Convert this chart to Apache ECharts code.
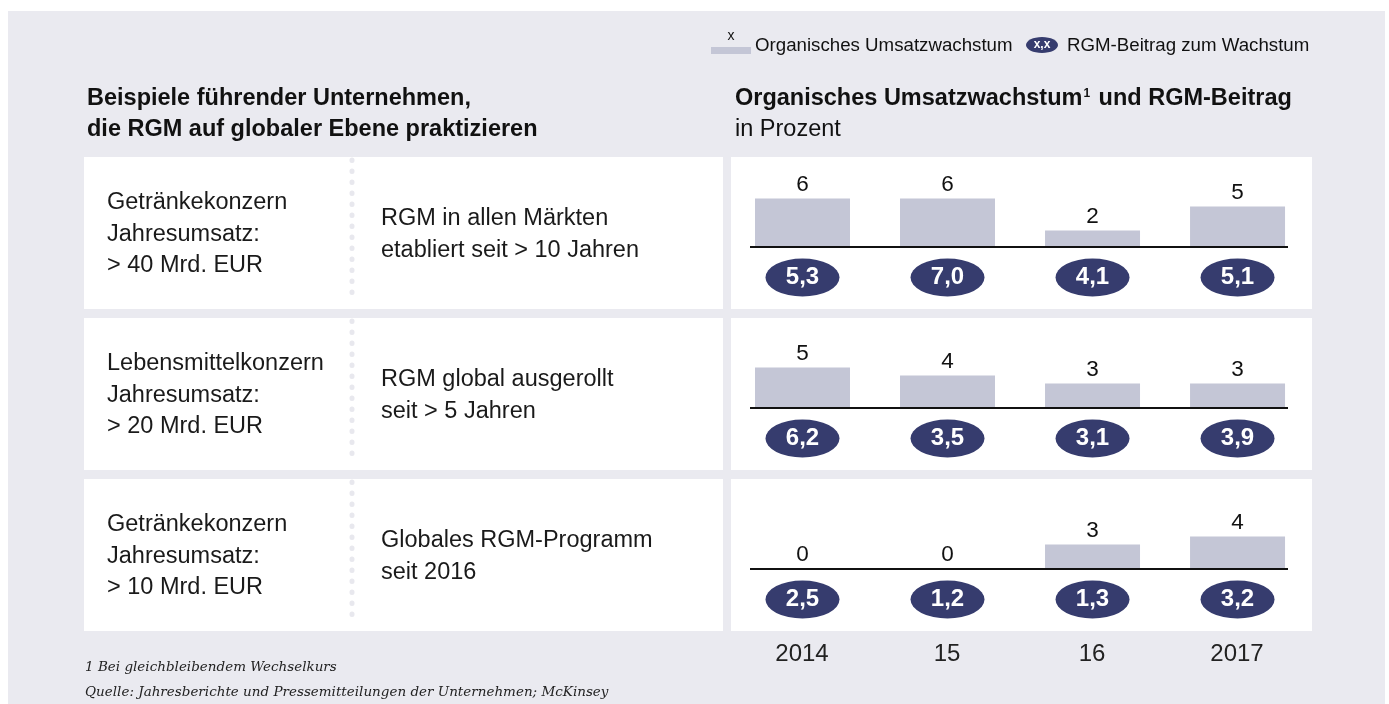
<!DOCTYPE html>
<html>
<head>
<meta charset="utf-8">
<script src="https://cdn.jsdelivr.net/npm/echarts@6/dist/echarts.min.js"></script>
<style>
html, body { margin: 0; padding: 0; background: #fff; }
#chart { width: 1389px; height: 704px; }
</style>
</head>
<body>
<div id="chart"></div>
<script>
// Daten aus der Grafik
var years = ['2014', '15', '16', '2017'];
var growth1 = [6, 6, 2, 5];
var growth2 = [5, 4, 3, 3];
var growth3 = [0, 0, 3, 4];
var rgm1 = [5.3, 7.0, 4.1, 5.1];
var rgm2 = [6.2, 3.5, 3.1, 3.9];
var rgm3 = [2.5, 1.2, 1.3, 3.2];
var companies = [
    ['Getränkekonzern', 'Jahresumsatz:', '> 40 Mrd. EUR'],
    ['Lebensmittelkonzern', 'Jahresumsatz:', '> 20 Mrd. EUR'],
    ['Getränkekonzern', 'Jahresumsatz:', '> 10 Mrd. EUR']
];
var programs = [
    ['RGM in allen Märkten', 'etabliert seit > 10 Jahren'],
    ['RGM global ausgerollt', 'seit > 5 Jahren'],
    ['Globales RGM-Programm', 'seit 2016']
];
var footnotes = [
    '1 Bei gleichbleibendem Wechselkurs',
    'Quelle: Jahresberichte und Pressemitteilungen der Unternehmen; McKinsey'
];

var growthRows = [growth1, growth2, growth3];
var rgmRows = [rgm1, rgm2, rgm3];

var FONT = '"Liberation Sans", Arial, sans-serif';
var BAR_COLOR = '#c4c6d6';
var NAVY = '#363c6e';
var rowTops = [157, 318, 479];
var rowH = 152;
var badgeY = -3.875; // Lage der Ellipsen unter der Nulllinie

var myChart = echarts.init(document.getElementById('chart'));

var grids = [], xAxes = [], yAxes = [], series = [];
var graphics = [];

// Hintergrund
graphics.push({ type: 'rect', z: -10, silent: true, shape: { x: 8, y: 11, width: 1377, height: 693 }, style: { fill: '#eaeaf0' } });

for (var r = 0; r < 3; r++) {
    var y0 = rowTops[r];
    // weisse Felder
    graphics.push({ type: 'rect', z: -5, silent: true, shape: { x: 84, y: y0, width: 639, height: rowH }, style: { fill: '#fff' } });
    graphics.push({ type: 'rect', z: -5, silent: true, shape: { x: 731, y: y0, width: 581, height: rowH }, style: { fill: '#fff' } });
    // gepunktete Trennlinie
    graphics.push({ type: 'line', z: -4, silent: true, shape: { x1: 352, y1: y0 + 3, x2: 352, y2: y0 + 146 },
        style: { stroke: '#e8e8ee', lineWidth: 5, lineCap: 'round', lineDash: [0.5, 10.5] } });

    for (var i = 0; i < companies[r].length; i++) {
        graphics.push({ type: 'text', z: 5, silent: true, style: {
            text: companies[r][i], x: 107, y: y0 + 46 + i * 31.5, fill: '#1a1a1a',
            fontSize: 23.5, fontFamily: FONT, textAlign: 'left', textVerticalAlign: 'middle' } });
    }
    for (var j = 0; j < programs[r].length; j++) {
        graphics.push({ type: 'text', z: 5, silent: true, style: {
            text: programs[r][j], x: 381, y: y0 + 62 + j * 31.5, fill: '#1a1a1a',
            fontSize: 23.5, fontFamily: FONT, textAlign: 'left', textVerticalAlign: 'middle' } });
    }

    grids.push({ left: 750, width: 538, top: y0 + 25.5, height: 112 });
    xAxes.push({ type: 'value', gridIndex: r, min: -0.362, max: 3.348, show: false });
    yAxes.push({ type: 'value', gridIndex: r, min: -6, max: 8, show: false });

    series.push({
        type: 'bar', name: 'Organisches Umsatzwachstum', xAxisIndex: r, yAxisIndex: r,
        data: growthRows[r].map(function (v, k) { return [k, v]; }),
        barWidth: 95, itemStyle: { color: BAR_COLOR }, silent: true,
        label: { show: true, position: 'top', distance: 2, fontSize: 22.5, fontFamily: FONT, color: '#111',
            formatter: function (p) { return String(p.value[1]); } },
        markLine: { silent: true, symbol: ['none', 'none'], label: { show: false },
            lineStyle: { color: '#111', width: 2, type: 'solid' }, data: [{ yAxis: 0 }] }
    });
    series.push({
        type: 'scatter', name: 'RGM-Beitrag zum Wachstum', xAxisIndex: r, yAxisIndex: r,
        data: rgmRows[r].map(function (v, k) { return [k, badgeY, v]; }),
        symbol: 'circle', symbolSize: [74, 38], itemStyle: { color: NAVY, opacity: 1 }, silent: true,
        label: { show: true, position: 'inside', fontSize: 24, fontWeight: 'bold', fontFamily: FONT, color: '#fff',
            formatter: function (p) { return p.value[2].toFixed(1).replace('.', ','); } }
    });
}

// Jahresachse unter den Feldern
grids.push({ left: 729.5, width: 580, top: 616, height: 10 });
xAxes.push({ type: 'category', gridIndex: 3, data: years, position: 'top',
    axisLine: { show: false }, axisTick: { show: false },
    axisLabel: { margin: -50, fontSize: 24, fontFamily: FONT, color: '#222' } });
yAxes.push({ type: 'value', gridIndex: 3, show: false });

// Überschriften
graphics.push({ type: 'text', z: 5, silent: true, style: { text: 'Beispiele führender Unternehmen,', x: 87, y: 99,
    fontSize: 23.5, fontWeight: 'bold', fontFamily: FONT, fill: '#111', textVerticalAlign: 'middle' } });
graphics.push({ type: 'text', z: 5, silent: true, style: { text: 'die RGM auf globaler Ebene praktizieren', x: 87, y: 130,
    fontSize: 23.5, fontWeight: 'bold', fontFamily: FONT, fill: '#111', textVerticalAlign: 'middle' } });
graphics.push({ type: 'text', z: 5, silent: true, style: {
    text: '{b|Organisches Umsatzwachstum}{s|1}{b| und RGM-Beitrag}', x: 735, y: 99, textVerticalAlign: 'middle',
    rich: {
        b: { fontSize: 23.5, fontWeight: 'bold', fontFamily: FONT, fill: '#111' },
        s: { fontSize: 12, fontWeight: 'bold', fontFamily: FONT, fill: '#111', padding: [0, 2, 11, 1] }
    } } });
graphics.push({ type: 'text', z: 5, silent: true, style: { text: 'in Prozent', x: 735, y: 130,
    fontSize: 23.5, fontFamily: FONT, fill: '#111', textVerticalAlign: 'middle' } });

// Legende
graphics.push({ type: 'text', z: 5, silent: true, style: { text: 'x', x: 731, y: 36, fontSize: 14, fontFamily: FONT,
    fill: '#111', textAlign: 'center', textVerticalAlign: 'middle' } });
graphics.push({ type: 'rect', z: 5, silent: true, shape: { x: 711, y: 47, width: 40, height: 7 }, style: { fill: BAR_COLOR } });
graphics.push({ type: 'text', z: 5, silent: true, style: { text: 'Organisches Umsatzwachstum', x: 755, y: 46, fontSize: 18.7,
    fontFamily: FONT, fill: '#111', textVerticalAlign: 'middle' } });
graphics.push({ type: 'ellipse', z: 5, silent: true, shape: { cx: 1042, cy: 45, rx: 16, ry: 8 }, style: { fill: NAVY } });
graphics.push({ type: 'text', z: 6, silent: true, style: { text: 'x,x', x: 1042, y: 45, fontSize: 12, fontWeight: 'bold',
    fontFamily: FONT, fill: '#fff', textAlign: 'center', textVerticalAlign: 'middle' } });
graphics.push({ type: 'text', z: 5, silent: true, style: { text: 'RGM-Beitrag zum Wachstum', x: 1067, y: 46, fontSize: 18.7,
    fontFamily: FONT, fill: '#111', textVerticalAlign: 'middle' } });

// Fussnoten
for (var f = 0; f < footnotes.length; f++) {
    graphics.push({ type: 'text', z: 5, silent: true, style: { text: footnotes[f], x: 85, y: 667 + f * 25,
        fontSize: 13.5, fontStyle: 'italic', fontFamily: '"DejaVu Serif", serif', fill: '#222', textVerticalAlign: 'middle' } });
}

var option = {
    animation: false,
    backgroundColor: '#fff',
    grid: grids,
    xAxis: xAxes,
    yAxis: yAxes,
    series: series,
    graphic: { elements: graphics }
};

myChart.setOption(option);
</script>
</body>
</html>
